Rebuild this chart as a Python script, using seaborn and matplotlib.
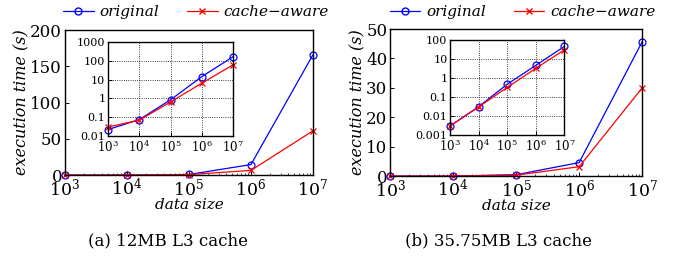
import numpy as np
import seaborn as sns
import matplotlib.pyplot as plt
from matplotlib.lines import Line2D

# data
sizes = [1e3, 1e4, 1e5, 1e6, 1e7]
size_labels = [r"$10^{3}$", r"$10^{4}$", r"$10^{5}$", r"$10^{6}$", r"$10^{7}$"]

orig_12mb = [0.022, 0.075, 0.85, 14.5, 166]
cache_12mb = [0.03, 0.07, 0.65, 6.5, 61]

orig_35mb = [0.003, 0.031, 0.47, 4.6, 45.7]
cache_35mb = [0.003, 0.03, 0.32, 3.2, 30]

main_yticks_a = [0, 50, 100, 150, 200]
main_yticks_b = [0, 10, 20, 30, 40, 50]
inset_yticks_a = [0.01, 0.1, 1, 10, 100, 1000]
inset_yticks_b = [0.001, 0.01, 0.1, 1, 10, 100]

sns.set_theme(style="ticks")
plt.rcParams['font.family'] = ['DejaVu Serif']
plt.rcParams['mathtext.fontset'] = 'dejavuserif'
plt.rcParams['xtick.direction'] = 'in'
plt.rcParams['ytick.direction'] = 'in'
plt.rcParams['text.color'] = 'black'
plt.rcParams['axes.labelcolor'] = 'black'
plt.rcParams['xtick.color'] = 'black'
plt.rcParams['ytick.color'] = 'black'

BLUE = "#0000ff"
RED = "#ff0000"


def draw_lines(ax, orig, cache, ms):
    sns.lineplot(x=sizes, y=orig, ax=ax, color=BLUE, lw=0.9, marker='o', ms=ms,
                 markerfacecolor='none', markeredgecolor=BLUE, markeredgewidth=0.9, clip_on=False)
    sns.lineplot(x=sizes, y=cache, ax=ax, color=RED, lw=0.9, marker='x', ms=ms,
                 markeredgecolor=RED, markeredgewidth=0.9, clip_on=False)


def style_axes(ax, fs):
    ax.set_xscale('log')
    ax.set_xlim(sizes[0], sizes[-1])
    ax.set_xticks(sizes)
    ax.set_xticklabels(size_labels, fontsize=fs)
    for s in ax.spines.values():
        s.set_visible(True)
        s.set_linewidth(1.0)
        s.set_color('black')
    ax.tick_params(which='major', length=3, width=0.7, colors='black', pad=2)
    ax.tick_params(which='minor', length=1.5, width=0.5, colors='black')
    ax.tick_params(axis='y', which='minor', left=False)


fig = plt.figure(figsize=(6.76, 2.59), dpi=100)

panels = [
    dict(main=[0.096, 0.324, 0.367, 0.560], inset=[0.160, 0.475, 0.185, 0.363],
         orig=orig_12mb, cache=cache_12mb, yt=main_yticks_a, iyt=inset_yticks_a,
         ilabels=["0.01", "0.1", "1", "10", "100", "1000"],
         caption="(a) 12MB L3 cache", cx=0.248, lx=0.29),
    dict(main=[0.577, 0.320, 0.373, 0.568], inset=[0.666, 0.479, 0.169, 0.367],
         orig=orig_35mb, cache=cache_35mb, yt=main_yticks_b, iyt=inset_yticks_b,
         ilabels=["0.001", "0.01", "0.1", "1", "10", "100"],
         caption="(b) 35.75MB L3 cache", cx=0.737, lx=0.773),
]

for p in panels:
    ax = fig.add_axes(p['main'])
    draw_lines(ax, p['orig'], p['cache'], 5)
    style_axes(ax, 12.5)
    ax.set_ylim(p['yt'][0], p['yt'][-1])
    ax.set_yticks(p['yt'])
    ax.set_yticklabels([str(v) for v in p['yt']], fontsize=12)
    ax.set_xlabel("data size", fontsize=11, style='italic', labelpad=-1)
    ax.set_ylabel("execution time (s)", fontsize=11.5, style='italic', labelpad=0)

    ins = fig.add_axes(p['inset'])
    draw_lines(ins, p['orig'], p['cache'], 5)
    style_axes(ins, 8.5)
    ins.set_yscale('log')
    ins.set_ylim(p['iyt'][0], p['iyt'][-1])
    ins.set_yticks(p['iyt'])
    ins.set_yticklabels(p['ilabels'], fontsize=8)
    ins.tick_params(axis='y', which='minor', left=False)
    ins.grid(True, which='major', color='black', linestyle=':', linewidth=0.6)
    ins.set_facecolor('white')

    fig.text(p['cx'], 0.07, p['caption'], fontsize=12, ha='center', va='center')

    handles = [
        Line2D([], [], color=BLUE, lw=0.9, marker='o', ms=5, markerfacecolor='none'),
        Line2D([], [], color=RED, lw=0.9, marker='x', ms=5),
    ]
    fig.legend(handles, ["original", "cache\u2212aware"], loc='center', ncol=2,
               bbox_to_anchor=(p['lx'], 0.952), frameon=False,
               prop=dict(size=11, style='italic'), handlelength=2.0,
               columnspacing=1.8, handletextpad=0.4, borderaxespad=0)

fig.savefig("out.png", dpi=100)
